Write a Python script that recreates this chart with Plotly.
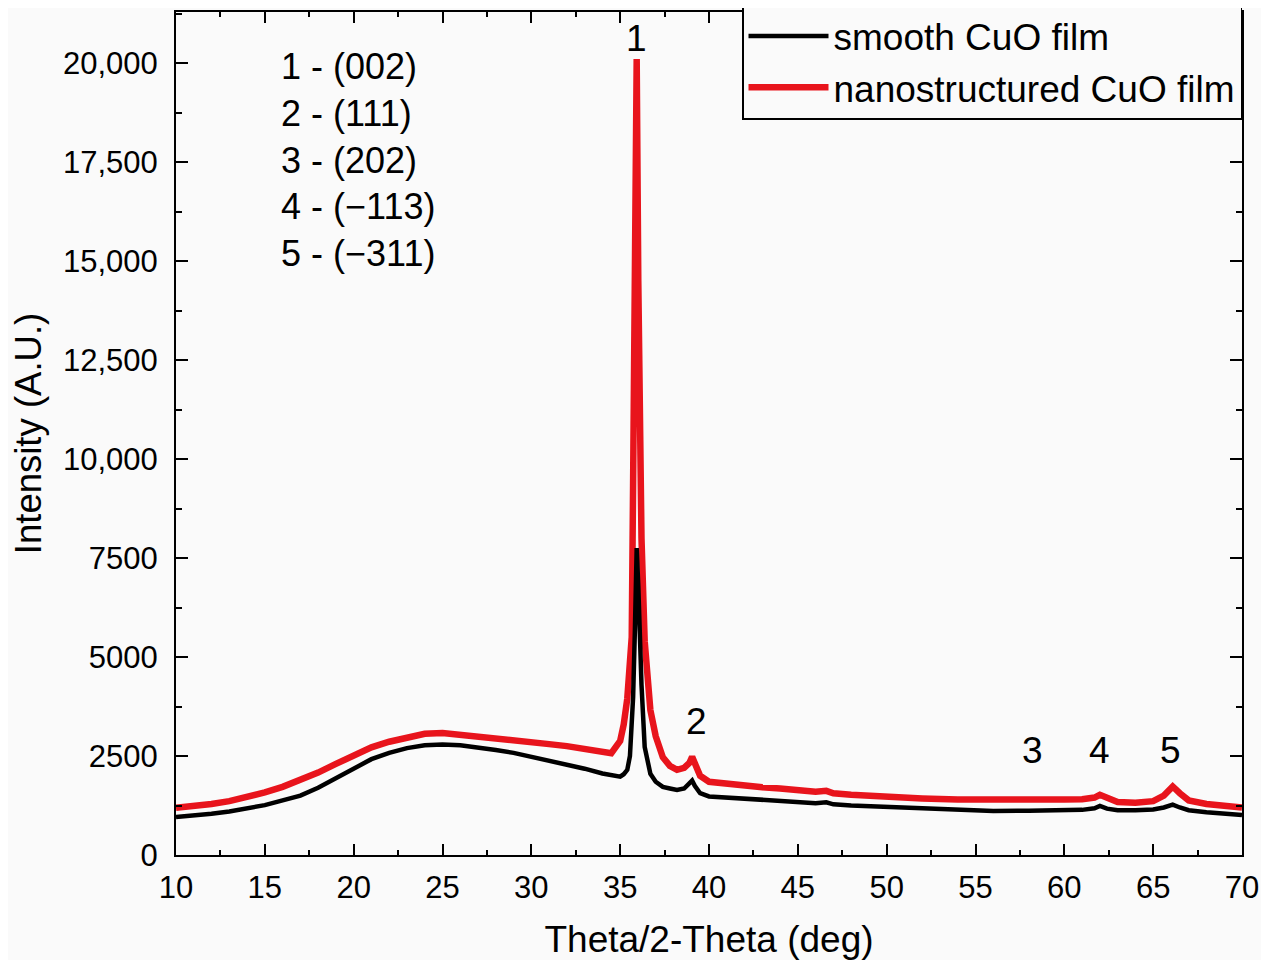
import plotly.graph_objects as go

# ---- data ----
two_theta = [10, 11, 12, 13, 14, 15, 16, 17, 18, 19, 20, 21, 22, 23, 24, 25, 26, 27, 28, 29,
             30, 31, 32, 33, 34, 34.5, 35, 35.2, 35.4, 35.55, 35.65, 35.73, 35.83, 35.93, 36.02,
             36.13, 36.2, 36.38, 36.7, 37.0, 37.4, 37.8, 38.2, 38.6, 38.9, 39.05, 39.2, 39.5,
             40, 41, 42, 43, 44, 45, 46, 46.6, 47, 48, 49, 50, 52, 54, 56, 58, 60,
             61, 61.7, 62, 62.4, 63, 64, 65, 65.6, 66.1, 66.5, 67, 68, 69, 70]

smooth_cuo = [960, 990, 1040, 1100, 1180, 1260, 1380, 1500, 1700, 1950, 2200, 2420, 2580, 2700,
              2770, 2790, 2770, 2720, 2650, 2580, 2480, 2390, 2290, 2180, 2060,
              2020, 1980, 2040, 2150, 2500, 3230, 4000, 5700, 7750, 6800, 5200, 4300, 2730, 2050,
              1850, 1720, 1680, 1640, 1680, 1800, 1880, 1750, 1560,
              1480, 1450, 1420, 1400, 1370, 1340, 1310,
              1330, 1280, 1250, 1230, 1210,
              1170, 1130, 1110, 1120, 1130,
              1140, 1180, 1240, 1170, 1130, 1130, 1150,
              1200, 1270, 1200, 1130, 1080, 1040, 1010]

nano_cuo = [1190, 1230, 1290, 1360, 1460, 1580, 1720, 1880, 2080, 2300, 2520, 2720, 2860, 2980,
            3060, 3080, 3040, 3000, 2960, 2900, 2850, 2800, 2750, 2680, 2600,
            2570, 2880, 3300, 3950, 4700, 5500, 9500, 14000, 20100, 14500, 10000, 8000, 5400, 3660,
            3000, 2470, 2250, 2150, 2200, 2330, 2480, 2330, 2000,
            1850, 1790, 1750, 1710, 1680, 1640, 1600,
            1620, 1560, 1520, 1490, 1460,
            1430, 1400, 1390, 1400, 1400,
            1410, 1450, 1520, 1440, 1340, 1320, 1360,
            1500, 1730, 1560, 1380, 1290, 1240, 1200]

x_tickvals = [10, 15, 20, 25, 30, 35, 40, 45, 50, 55, 60, 65, 70]
y_tickvals = [0, 2500, 5000, 7500, 10000, 12500, 15000, 17500, 20000]
y_ticktext = ["0", "2500", "5000", "7500", "10,000", "12,500", "15,000", "17,500", "20,000"]

peak_labels = ["1", "2", "3", "4", "5"]
peak_x = [35.9, 39.3, 58.2, 62.0, 66.0]
peak_label_y = [20630, 3360, 2650, 2650, 2650]

hkl_lines = ["1 - (002)", "2 - (111)", "3 - (202)", "4 - (\u2212113)", "5 - (\u2212311)"]

FONT = "Liberation Sans, Arial, sans-serif"
BG = "#fafafa"

fig = go.Figure()
fig.add_trace(go.Scatter(x=two_theta, y=nano_cuo, mode="lines", name="nanostructured CuO film",
                         line=dict(color="#e8141c", width=6.5), legendrank=2))
fig.add_trace(go.Scatter(x=two_theta, y=smooth_cuo, mode="lines", name="smooth CuO film",
                         line=dict(color="#000000", width=4.5), legendrank=1))

for lab, px, py in zip(peak_labels, peak_x, peak_label_y):
    fig.add_annotation(x=px, y=py, text=lab, showarrow=False, xanchor="center", yanchor="middle",
                       font=dict(family=FONT, size=37, color="black"))

fig.add_annotation(xref="paper", yref="paper", x=0.0966, y=0.824, text="<br>".join(hkl_lines),
                   showarrow=False, xanchor="left", yanchor="middle", align="left",
                   font=dict(family=FONT, size=36, color="black"))

axis_common = dict(showline=True, linecolor="black", linewidth=2, mirror="allticks",
                   ticks="inside", tickcolor="black", tickwidth=2, showgrid=False, zeroline=False,
                   tickfont=dict(family=FONT, size=31, color="black"))

fig.update_xaxes(range=[10, 70], tickvals=x_tickvals, ticklen=11, ticklabelstandoff=4,
                 minor=dict(dtick=2.5, tick0=10, ticks="inside", ticklen=5, tickwidth=2, tickcolor="black"),
                 title=dict(text="Theta/2-Theta (deg)", font=dict(family=FONT, size=37, color="black"), standoff=24),
                 **axis_common)
fig.update_yaxes(range=[0, 21290], tickvals=y_tickvals, ticktext=y_ticktext, ticklen=12, ticklabelstandoff=10,
                 minor=dict(dtick=1250, tick0=0, ticks="inside", ticklen=6, tickwidth=2, tickcolor="black"),
                 title=dict(text="Intensity (A.U.)", font=dict(family=FONT, size=36.5, color="black"), standoff=12),
                 **axis_common)

fig.update_layout(
    width=1261, height=952,
    margin=dict(l=168, r=27, t=4, b=105, autoexpand=False),
    paper_bgcolor=BG, plot_bgcolor=BG,
    font=dict(family=FONT, color="black"),
    legend=dict(x=1, y=1.0095, xanchor="right", yanchor="top", bgcolor=BG, bordercolor="black",
                borderwidth=1.5, font=dict(family=FONT, size=37, color="black"), itemwidth=80,
                tracegroupgap=0),
)

fig.write_html("out.html")
